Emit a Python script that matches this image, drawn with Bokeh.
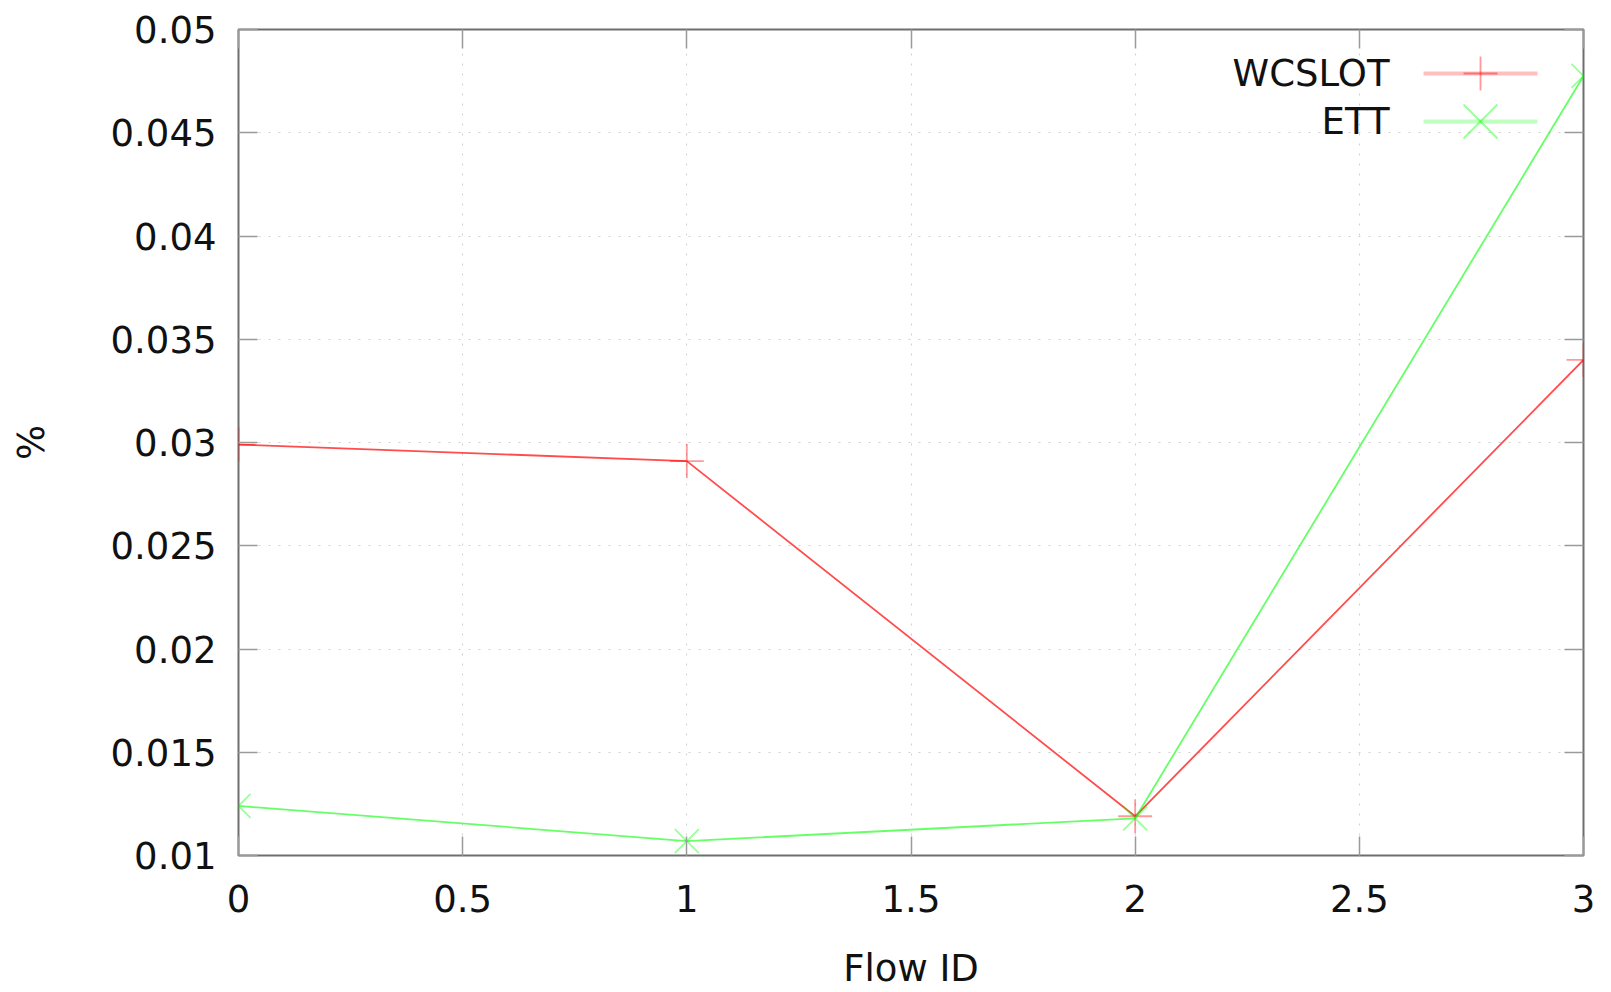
from bokeh.plotting import figure
from bokeh.models import FixedTicker, LinearAxis, Label, Arrow, Range1d
from bokeh.embed import file_html
from bokeh.resources import INLINE

# ---- data ----
flow_id = [0, 1, 2, 3]
wcslot = [0.0299, 0.0291, 0.0119, 0.0340]
ett = [0.0124, 0.0107, 0.0118, 0.04775]
series_names = ["WCSLOT", "ETT"]

x_ticks = [0, 0.5, 1, 1.5, 2, 2.5, 3]
x_tick_labels = ["0", "0.5", "1", "1.5", "2", "2.5", "3"]
y_ticks = [0.01, 0.015, 0.02, 0.025, 0.03, 0.035, 0.04, 0.045, 0.05]
y_tick_labels = ["0.01", "0.015", "0.02", "0.025", "0.03", "0.035", "0.04", "0.045", "0.05"]
x_title = "Flow ID"
y_title = "%"

FONT = "DejaVu Sans"
FS = "37px"
RED = "#ff0000"
GREEN = "#00ff00"
TXT = "#111111"

p = figure(width=1611, height=992, x_range=Range1d(0, 3), y_range=Range1d(0.01, 0.05),
           output_backend="svg", toolbar_location=None,
           min_border_left=238, min_border_right=28, min_border_top=29, min_border_bottom=137,
           x_axis_label=x_title, y_axis_label=y_title)
p.background_fill_color = "white"
p.border_fill_color = "white"
p.outline_line_color = "#6e6e6e"
p.outline_line_width = 2

# grid
for g in (p.xgrid, p.ygrid):
    g.grid_line_color = "#d0d0d0"
    g.grid_line_dash = "2 8"
    g.grid_line_width = 1
p.xgrid.ticker = FixedTicker(ticks=x_ticks)
p.ygrid.ticker = FixedTicker(ticks=y_ticks)

def style_axis(ax, ticks, labels, show_labels=True):
    ax.ticker = FixedTicker(ticks=ticks)
    ax.axis_line_color = None
    ax.major_tick_in = 19
    ax.major_tick_out = 0
    ax.major_tick_line_color = "#9a9a9a"
    ax.major_tick_line_width = 1.5
    ax.minor_tick_line_color = None
    ax.major_label_text_font = FONT
    if show_labels:
        ax.major_label_overrides = {t: l for t, l in zip(ticks, labels)}
        ax.major_label_text_color = TXT
        ax.major_label_text_font_size = FS
    else:
        ax.major_label_text_color = None
        ax.major_label_text_font_size = "1px"
        ax.major_label_standoff = 0

xa = p.xaxis[0]
ya = p.yaxis[0]
style_axis(xa, x_ticks, x_tick_labels)
style_axis(ya, y_ticks, y_tick_labels)
xa.major_label_standoff = 29
ya.major_label_standoff = 22
for ax in (xa, ya):
    ax.axis_label_text_font = FONT
    ax.axis_label_text_font_size = FS
    ax.axis_label_text_font_style = "normal"
    ax.axis_label_text_color = TXT
xa.axis_label_standoff = 32
ya.axis_label_standoff = 55

top = LinearAxis()
right = LinearAxis()
style_axis(top, x_ticks, x_tick_labels, show_labels=False)
style_axis(right, y_ticks, y_tick_labels, show_labels=False)
p.add_layout(top, "above")
p.add_layout(right, "right")

# series
p.line(flow_id, wcslot, line_color=RED, line_width=1.8, line_alpha=0.7)
p.scatter(flow_id, wcslot, marker="cross", size=34, line_color=RED, line_alpha=0.4, line_width=1.8)
p.line(flow_id, ett, line_color=GREEN, line_width=1.8, line_alpha=0.6)
p.scatter(flow_id, ett, marker="x", size=34, line_color=GREEN, line_alpha=0.4, line_width=1.8)

# custom gnuplot-style key (text right-aligned, sample to the right)
key_rows = [(782, RED, "cross"), (734, GREEN, "x")]
for name, (yy, col, mk) in zip(series_names, key_rows):
    p.add_layout(Label(x=1151, y=yy, x_units="screen", y_units="screen", text=name,
                       text_align="right", text_baseline="middle",
                       text_font=FONT, text_font_size=FS, text_color=TXT))
    p.add_layout(Arrow(end=None, x_start=1185, y_start=yy, x_end=1299, y_end=yy,
                       start_units="screen", end_units="screen",
                       line_color=col, line_width=4, line_alpha=0.25))
    if mk == "cross":
        segs = [(-17, 0, 17, 0), (0, -17, 0, 17)]
    else:
        segs = [(-17, -17, 17, 17), (-17, 17, 17, -17)]
    for dx0, dy0, dx1, dy1 in segs:
        p.add_layout(Arrow(end=None, x_start=1242 + dx0, y_start=yy + dy0,
                           x_end=1242 + dx1, y_end=yy + dy1,
                           start_units="screen", end_units="screen",
                           line_color=col, line_width=1.8, line_alpha=0.4))

open("out.html", "w").write(file_html(p, INLINE))
